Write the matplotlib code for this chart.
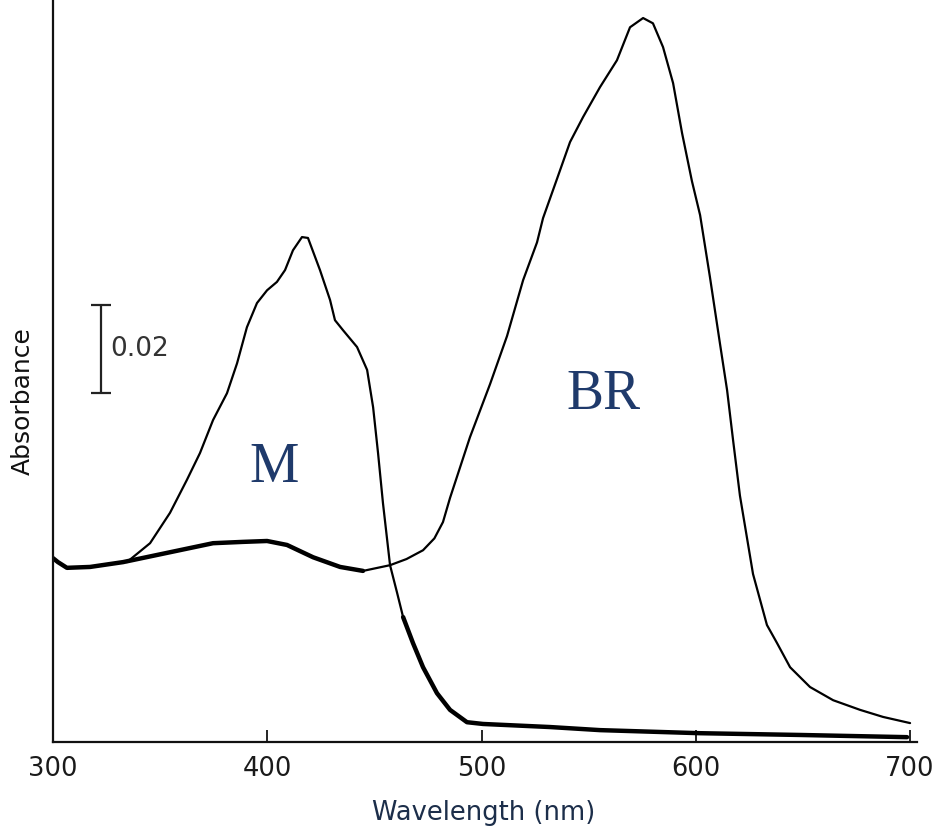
import matplotlib
matplotlib.use("Agg")
import matplotlib.pyplot as plt
import numpy as np

# ---- data ----
br_wl = [300.0, 302.3, 306.5, 317.3, 332.7, 353.2, 374.7, 388.7, 399.9, 409.2, 421.4, 434.0,
         444.7, 457.3, 465.0, 472.7, 478.0, 482.0, 485.3, 494.6, 504.0, 511.9, 519.4, 525.9, 528.7, 535.2,
         541.3, 547.4, 555.3, 563.2, 569.3, 575.4, 580.0, 584.7, 589.4, 593.6, 598.2, 602.0,
         606.6, 611.3, 614.6, 617.4, 620.6, 626.7, 633.2, 637.9, 644.0, 653.3, 664.1, 676.7, 687.4, 700.0]
br_abs = [0.0418, 0.0409, 0.0396, 0.0398, 0.0409, 0.0430, 0.0452, 0.0455, 0.0457, 0.0448, 0.0420, 0.0398,
          0.0389, 0.0402, 0.0416, 0.0436, 0.0463, 0.0500, 0.0555, 0.0693, 0.0814, 0.0923, 0.1050, 0.1136, 0.1191, 0.1280,
          0.1364, 0.1421, 0.1489, 0.1550, 0.1625, 0.1646, 0.1634, 0.1580, 0.1498, 0.1384, 0.1275, 0.1198,
          0.1057, 0.0905, 0.0800, 0.0686, 0.0560, 0.0382, 0.0266, 0.0225, 0.0170, 0.0125, 0.0095, 0.0073, 0.0057, 0.0043]

m_wl = [334.5, 345.3, 354.6, 362.5, 368.6, 374.7, 381.2, 385.9, 390.5, 395.2, 399.9,
        404.5, 408.3, 412.0, 416.2, 419.0, 424.6, 429.3, 431.6, 435.4, 441.9, 446.6, 449.4,
        451.7, 454.0, 457.3, 460.6, 463.4, 468.0, 472.7, 479.2, 485.3, 493.2, 500.7, 532.0,
        555.3, 602.0, 648.6, 698.6]
m_abs = [0.0409, 0.0452, 0.0521, 0.0596, 0.0657, 0.0732, 0.0793, 0.0861, 0.0943, 0.0998, 0.1027,
         0.1046, 0.1073, 0.1118, 0.1148, 0.1146, 0.1073, 0.1005, 0.0959, 0.0936, 0.0898, 0.0846, 0.0761,
         0.0657, 0.0543, 0.0402, 0.0339, 0.0284, 0.0225, 0.0170, 0.0111, 0.0073, 0.0045, 0.0041, 0.0034,
         0.0027, 0.0020, 0.0016, 0.0011]

x_ticks = [300, 400, 500, 600, 700]
x_tick_labels = ["300", "400", "500", "600", "700"]
scale_bar_value = 0.02
scale_bar_bottom = 0.0793
scale_bar_x = 322.4

# ---- figure ----
fig = plt.figure(figsize=(9.36, 8.33), dpi=100)
ax = fig.add_axes([53 / 936, 91 / 833, 863.5 / 936, 742 / 833])
ax.set_xlim(300, 703)
ax.set_ylim(0, 0.1687)

br_wl_a = np.array(br_wl); br_abs_a = np.array(br_abs)
m_wl_a = np.array(m_wl); m_abs_a = np.array(m_abs)

line_kw = dict(color="black", solid_capstyle="round", solid_joinstyle="round")

# BR spectrum: thick baseline part, then thin
k = 13  # switch near 445-457 nm
ax.plot(br_wl_a[:k], br_abs_a[:k], lw=3.2, **line_kw)
ax.plot(br_wl_a[k - 1:], br_abs_a[k - 1:], lw=1.6, **line_kw)

# M spectrum: thin part, then thick tail
j = 27
ax.plot(m_wl_a[:j + 1], m_abs_a[:j + 1], lw=1.6, **line_kw)
ax.plot(m_wl_a[j:], m_abs_a[j:], lw=3.2, **line_kw)

# scale bar
ax.errorbar([scale_bar_x], [scale_bar_bottom + scale_bar_value / 2], yerr=[scale_bar_value / 2],
            fmt="none", ecolor="#222222", elinewidth=1.6, capsize=7, capthick=1.6)
ax.text(326.6, scale_bar_bottom + scale_bar_value / 2, "0.02", fontsize=19, color="#333333",
        ha="left", va="center", family="DejaVu Sans")

# curve labels
ax.text(403.1, 0.0623, "M", fontsize=40, color="#1f3a6b", family="Liberation Serif",
        ha="center", va="center")
ax.text(556.7, 0.0789, "BR", fontsize=40, color="#1f3a6b", family="Liberation Serif",
        ha="center", va="center")

# axes styling
for s in ["top", "right"]:
    ax.spines[s].set_visible(False)
ax.spines["left"].set_linewidth(1.6)
ax.spines["bottom"].set_linewidth(1.6)
ax.spines["left"].set_color("#111111")
ax.spines["bottom"].set_color("#111111")
ax.set_yticks([])
ax.set_xticks(x_ticks)
ax.set_xticklabels(x_tick_labels)
ax.tick_params(axis="x", direction="in", length=9, width=1.2, pad=10,
               labelsize=18.5, labelcolor="#1a1a1a")

fig.text(484 / 936, 1 - 813 / 833, "Wavelength (nm)", fontsize=18.5, color="#1c2e4a",
         ha="center", va="center")
fig.text(23 / 936, 1 - 401 / 833, "Absorbance", fontsize=18, color="#111111",
         ha="center", va="center", rotation=90)

fig.savefig("out.png", dpi=100)
